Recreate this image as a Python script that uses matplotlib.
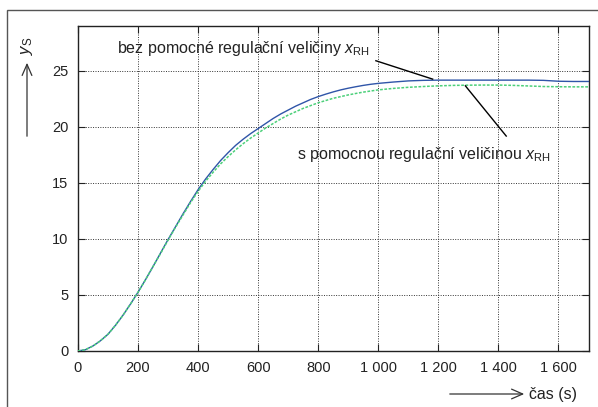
import matplotlib
matplotlib.use("Agg")
import matplotlib.pyplot as plt
from matplotlib.patches import Rectangle, FancyArrowPatch

plt.rcParams['font.family'] = ['Liberation Sans', 'DejaVu Sans']
plt.rcParams['mathtext.fontset'] = 'custom'
plt.rcParams['mathtext.rm'] = 'Liberation Sans'
plt.rcParams['mathtext.it'] = 'Liberation Sans:italic'

# time axis (s)
t = [0, 25, 50, 75, 100, 125, 150, 175, 200, 225, 250, 275, 300, 325, 350,
     375, 400, 425, 450, 475, 500, 525, 550, 575, 600, 625, 650, 675, 700,
     725, 750, 775, 800, 825, 850, 875, 900, 925, 950, 975, 1000, 1050, 1100,
     1150, 1200, 1250, 1300, 1350, 1400, 1450, 1500, 1550, 1600, 1650, 1700]
# without auxiliary controlled variable
y_bez = [0, 0.12, 0.45, 0.92, 1.5, 2.3, 3.2, 4.2, 5.25, 6.37, 7.55, 8.75, 9.95,
         11.1, 12.25, 13.35, 14.4, 15.35, 16.2, 17.0, 17.7, 18.35, 18.9,
         19.4, 19.85, 20.3, 20.75, 21.15, 21.5, 21.85, 22.15, 22.45, 22.7,
         22.92, 23.12, 23.3, 23.45, 23.58, 23.7, 23.8, 23.88, 24.0, 24.1,
         24.15, 24.17, 24.17, 24.17, 24.17, 24.17, 24.17, 24.17, 24.15, 24.07,
         24.05, 24.05]
# with auxiliary controlled variable
y_s = [0, 0.12, 0.45, 0.92, 1.5, 2.3, 3.2, 4.2, 5.25, 6.37, 7.55, 8.7, 9.9,
       11.05, 12.15, 13.25, 14.25, 15.15, 15.95, 16.7, 17.35, 17.95, 18.5,
       19.0, 19.45, 19.9, 20.3, 20.7, 21.05, 21.35, 21.65, 21.9, 22.15, 22.35,
       22.55, 22.7, 22.85, 22.98, 23.1, 23.2, 23.3, 23.43, 23.53, 23.6, 23.66,
       23.7, 23.72, 23.73, 23.73, 23.7, 23.65, 23.6, 23.58, 23.57, 23.57]

xticks = [0, 200, 400, 600, 800, 1000, 1200, 1400, 1600]
xticklabels = ['0', '200', '400', '600', '800', '1 000', '1 200', '1 400', '1 600']
yticks = [0, 5, 10, 15, 20, 25]

label_bez = 'bez pomocné regulační veličiny $x_\\mathrm{RH}$'
label_s = 's pomocnou regulační veličinou $x_\\mathrm{RH}$'

W, H = 598, 407
fig = plt.figure(figsize=(W / 100, H / 100), dpi=100)
ax = fig.add_axes([78 / W, 1 - 351 / H, (588.5 - 78) / W, (351 - 26) / H])

ax.plot(t, y_bez, color='#2f55a8', lw=1.0, zorder=3)
ax.plot(t, y_s, color='#4cd07a', lw=1.1, ls=(0, (1.8, 1.0)), zorder=3)

ax.set_xlim(0, 1700)
ax.set_ylim(0, 29)
ax.set_xticks(xticks)
ax.set_xticklabels(xticklabels)
ax.set_yticks(yticks)
ax.grid(True, color='#333333', ls=(0, (1, 1.5)), lw=0.7)
ax.tick_params(direction='in', length=5, width=0.8, top=True, right=True,
               labelsize=10.5, colors='#222222', pad=7)
for s in ax.spines.values():
    s.set_linewidth(1.0)
    s.set_color('#222222')

ax.text(129, 26.95, label_bez, fontsize=11.5, va='center', ha='left', color='#222222')
ax.text(730, 17.55, label_s, fontsize=11.5, va='center', ha='left', color='#222222')
ax.plot([992, 1181], [25.9, 24.26], color='black', lw=1.0, zorder=4)
ax.plot([1290, 1426], [23.66, 19.18], color='black', lw=1.0, zorder=4)

# outer frame
fig.patches.append(Rectangle((7 / W, -0.1), 1.1, 1 - 10 / H + 0.1,
                             transform=fig.transFigure, fill=False,
                             edgecolor='#555555', lw=1.0))

# y-axis label with arrow
fig.text(27 / W, 1 - 46 / H, '$y_\\mathrm{S}$', rotation=90, fontsize=12,
         ha='center', va='center', color='#222222')
fig.add_artist(FancyArrowPatch(
    (27 / W, 1 - 139 / H), (27 / W, 1 - 60 / H), transform=fig.transFigure,
    arrowstyle='->,head_length=8,head_width=3.5', color='#333333', lw=0.9,
    mutation_scale=1))

# x-axis label with arrow
fig.text(529 / W, 1 - 394 / H, 'čas (s)', fontsize=11.5, ha='left',
         va='center', color='#222222')
fig.add_artist(FancyArrowPatch(
    (447 / W, 1 - 394 / H), (527 / W, 1 - 394 / H), transform=fig.transFigure,
    arrowstyle='->,head_length=8,head_width=3.5', color='#333333', lw=0.9,
    mutation_scale=1))

fig.savefig('out.png', dpi=100)
